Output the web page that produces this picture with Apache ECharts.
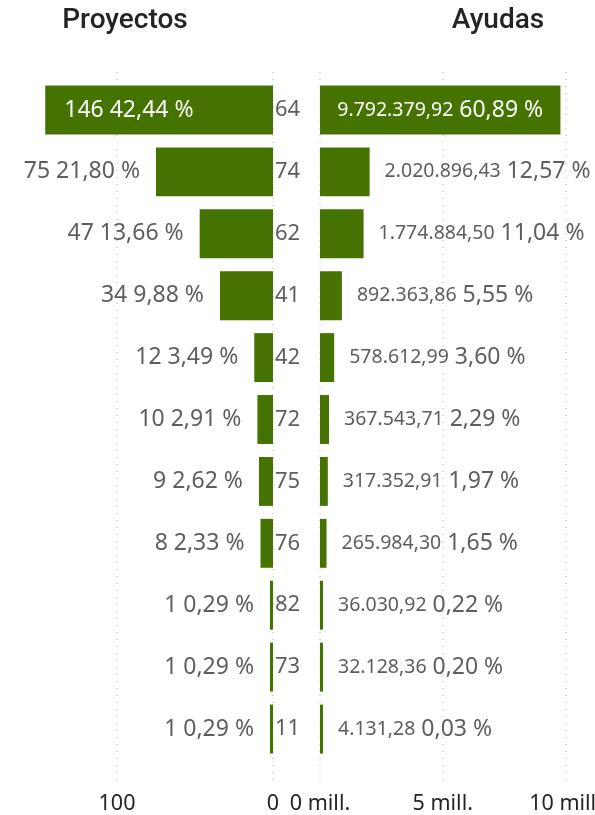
<!DOCTYPE html>
<html><head><meta charset="utf-8">
<script src="https://cdn.jsdelivr.net/npm/echarts@6/dist/echarts.min.js"></script>
<style>html,body{margin:0;padding:0;background:#fff}#c{width:595px;height:815px}</style>
</head><body><div id="c"></div>
<script>
const categories = ['64','74','62','41','42','72','75','76','82','73','11'];
const proyectos = [146,75,47,34,12,10,9,8,1,1,1];
const pctProyectos = ['42,44 %','21,80 %','13,66 %','9,88 %','3,49 %','2,91 %','2,62 %','2,33 %','0,29 %','0,29 %','0,29 %'];
const ayudas = [9792379.92,2020896.43,1774884.50,892363.86,578612.99,367543.71,317352.91,265984.30,36030.92,32128.36,4131.28];
const ayudasLabels = ['9.792.379,92','2.020.896,43','1.774.884,50','892.363,86','578.612,99','367.543,71','317.352,91','265.984,30','36.030,92','32.128,36','4.131,28'];
const pctAyudas = ['60,89 %','12,57 %','11,04 %','5,55 %','3,60 %','2,29 %','1,97 %','1,65 %','0,22 %','0,20 %','0,03 %'];

const GREEN = '#447300';
const FONT = 'Noto Sans';
const LBL = '#605E5C';
const BIG = 23, SMALL = 19.5;
const chart = echarts.init(document.getElementById('c'));

const leftMax = 175, rightMax = 11.2e6;
const gridTop = 79, gridBottom = 55, mid = 273, rightStart = 320;

const leftData = proyectos.map((v,i)=>({
  value: v,
  label: i===0 ? {position:'insideLeft', distance:19, color:'#fff'} : {position:'left', distance:16, color:LBL}
}));
const rightData = ayudas.map((v,i)=>({
  value: v,
  label: i===0 ? {position:'inside', color:'#fff', rich:{a:{color:'#fff',fontSize:SMALL,fontFamily:FONT},b:{color:'#fff',fontSize:BIG,fontFamily:FONT}}}
               : {position:'right', distance:15, color:LBL}
}));

const splitStyle = {show:true, showMaxLine:false, lineStyle:{type:[1,6], color:'#C8C6C4', width:1.5}};
const gb = {outerBoundsMode:'none', containLabel:false};

chart.setOption({
  animation:false,
  title:[
    {text:'Proyectos', left:120, top:2, textAlign:'center', textStyle:{fontFamily:'Roboto',fontSize:28,fontWeight:500,color:'#252423'}},
    {text:'Ayudas', left:493, top:2, textAlign:'center', textStyle:{fontFamily:'Roboto',fontSize:28,fontWeight:500,color:'#252423'}}
  ],
  grid:[
    Object.assign({left:0, right:595-mid, top:gridTop, bottom:gridBottom}, gb),
    Object.assign({left:rightStart, right:0, top:gridTop, bottom:gridBottom}, gb),
    Object.assign({left:0, right:595-mid, top:72, bottom:33}, gb),
    Object.assign({left:rightStart, right:0, top:72, bottom:33}, gb)
  ],
  xAxis:[
    {gridIndex:0, type:'value', inverse:true, min:0, max:leftMax, interval:100,
     axisLine:{show:false}, axisTick:{show:false}, axisLabel:{show:false}, splitLine:{show:false}},
    {gridIndex:1, type:'value', min:0, max:rightMax, interval:5e6,
     axisLine:{show:false}, axisTick:{show:false}, axisLabel:{show:false}, splitLine:{show:false}},
    {gridIndex:2, type:'value', inverse:true, min:0, max:leftMax, interval:100,
     axisLine:{show:false}, axisTick:{show:false},
     axisLabel:{margin:11, fontFamily:FONT, fontSize:21.5, color:'#252423', hideOverlap:false, formatter:v=> v%100===0 ? String(v) : ''},
     splitLine:splitStyle},
    {gridIndex:3, type:'value', min:0, max:rightMax, interval:5e6,
     axisLine:{show:false}, axisTick:{show:false},
     axisLabel:{margin:11, fontFamily:FONT, fontSize:21.5, color:'#252423', hideOverlap:false, formatter:v=> v%5e6===0 ? (v/1e6)+' mill.' : ''},
     splitLine:splitStyle}
  ],
  yAxis:[
    {gridIndex:0, type:'category', data:categories, inverse:true, position:'right',
     axisLine:{show:false}, axisTick:{show:false},
     axisLabel:{margin:2, align:'left', fontFamily:FONT, fontSize:22, color:LBL}},
    {gridIndex:1, type:'category', data:categories, inverse:true, show:false},
    {gridIndex:2, type:'value', show:false, min:0, max:1},
    {gridIndex:3, type:'value', show:false, min:0, max:1}
  ],
  series:[
    {type:'bar', xAxisIndex:0, yAxisIndex:0, data:leftData, barWidth:'79%', barMinHeight:3,
     itemStyle:{color:GREEN},
     label:{show:true, fontFamily:FONT, fontSize:BIG,
       formatter:p=>proyectos[p.dataIndex]+' '+pctProyectos[p.dataIndex]}},
    {type:'bar', xAxisIndex:1, yAxisIndex:1, data:rightData, barWidth:'79%', barMinHeight:3,
     itemStyle:{color:GREEN},
     label:{show:true, fontFamily:FONT, fontSize:BIG,
       formatter:p=>'{a|'+ayudasLabels[p.dataIndex]+'} {b|'+pctAyudas[p.dataIndex]+'}',
       rich:{a:{fontSize:SMALL,fontFamily:FONT,color:LBL}, b:{fontSize:BIG,fontFamily:FONT,color:LBL}}}}
  ]
});
</script></body></html>
